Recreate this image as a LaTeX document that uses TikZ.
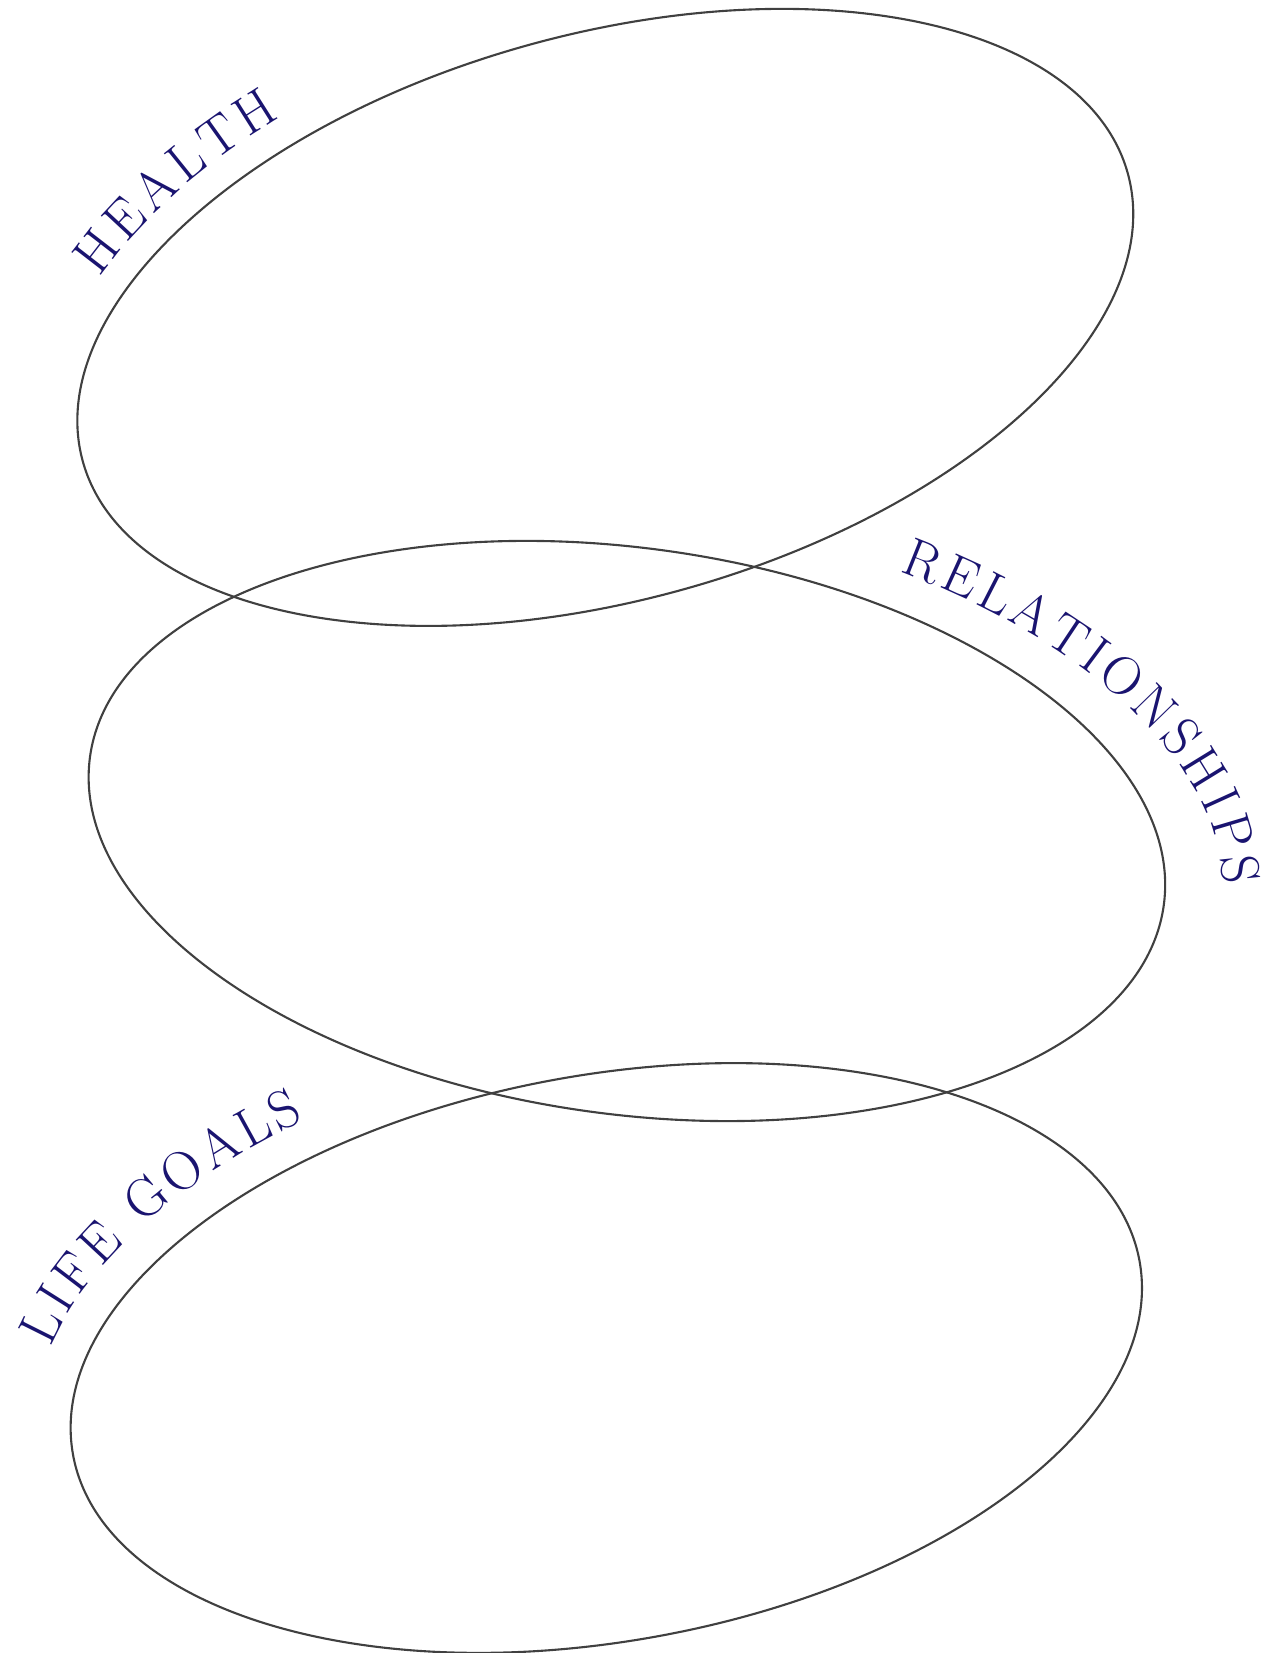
\documentclass[tikz,border=0pt]{standalone}
\usepackage{xcolor}
\usetikzlibrary{calc, decorations.text}
\definecolor{ringgray}{RGB}{64,64,64}
\definecolor{labelnavy}{RGB}{26,20,112}
\newcommand{\lblfont}{\color{labelnavy}\fontsize{15.5}{17}\selectfont}

\begin{document}
\begin{tikzpicture}[
    ring/.style ={draw=ringgray, line width=0.6pt},
    lbl/.style  ={decorate, decoration={text along path, text align=fit to path,
                  text={#1}}},
]
\useasboundingbox (0,0) rectangle (12.77,16.53);
\coordinate (health) at (6.053,13.356);
\coordinate (rel)    at (6.269,8.22);
\coordinate (goals)  at (6.063,2.95);
% top ring
\begin{scope}[shift={(health)}, rotate=15.4]
  \draw[ring] (0,0) ellipse[x radius=5.42, y radius=2.83];
  \path[lbl={|\lblfont|HEALTH}] (146.5:5.72 and 3.13)
        arc[start angle=146.5, end angle=117, x radius=5.72, y radius=3.13];
\end{scope}
% middle ring
\begin{scope}[shift={(rel)}, rotate=-7.9]
  \draw[ring] (0,0) ellipse[x radius=5.42, y radius=2.83];
  \path[lbl={|\lblfont|RELATIONSHIPS}] (67:6.0 and 3.2)
        arc[start angle=67, end angle=5, x radius=6.0, y radius=3.2];
\end{scope}
% bottom ring
\begin{scope}[shift={(goals)}, rotate=10.3]
  \draw[ring] (0,0) ellipse[x radius=5.42, y radius=2.83];
  \path[lbl={|\lblfont|LIFE GOALS}] (160:5.8 and 3.2)
        arc[start angle=160, end angle=116, x radius=5.8, y radius=3.2];
\end{scope}
\end{tikzpicture}
\end{document}
